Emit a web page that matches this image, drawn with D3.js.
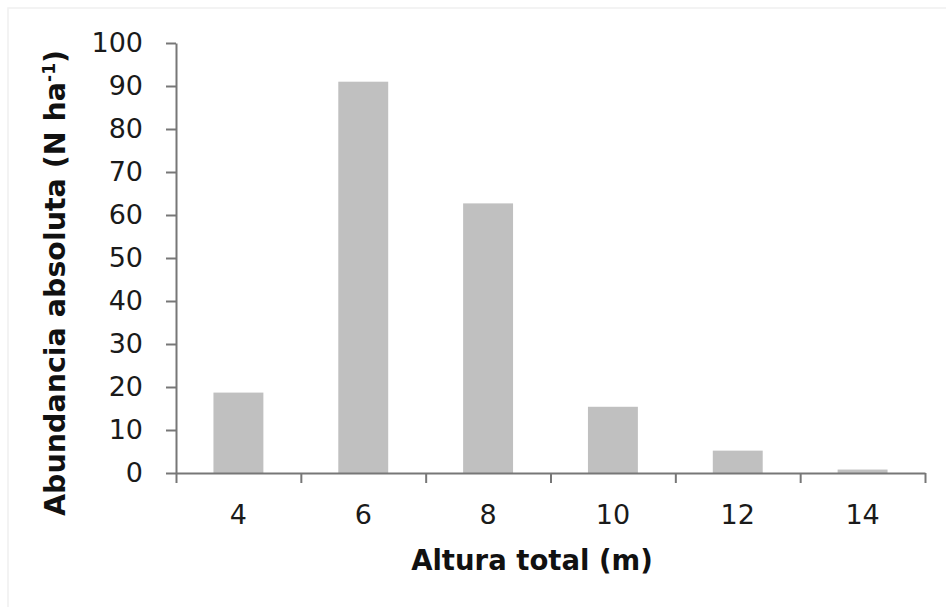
<!DOCTYPE html>
<html lang="es">
<head>
  <meta charset="UTF-8">
  <title>Abundancia absoluta por altura total</title>
  <script src="https://d3js.org/d3.v7.min.js"></script>
  <style>
    body {
      margin: 0;
      background: #fff;
      font-family: "DejaVu Sans", Verdana, sans-serif;
    }
    svg { display: block; }
    .axis text {
      font-family: "DejaVu Sans", Verdana, sans-serif;
      font-size: 27px;
      fill: #1a1a1a;
    }
    .axis path, .axis line {
      stroke: #777;
      stroke-width: 2px;
    }
    .title {
      font-family: "DejaVu Sans", Verdana, sans-serif;
      font-weight: bold;
      fill: #111;
    }
  </style>
</head>
<body>
  <svg id="chart" width="946" height="607"></svg>

  <script>
    // Data
    const heights = ["4", "6", "8", "10", "12", "14"];
    const abundance = [18.7, 91, 62.7, 15.4, 5.2, 0.8];
    const yTicks = [0, 10, 20, 30, 40, 50, 60, 70, 80, 90, 100];

    const svg = d3.select("#chart");
    const width = 946, height = 607;
    const margin = {top: 43, right: 21, bottom: 134, left: 176};

    // faint frame like the original export
    svg.append("rect")
       .attr("x", 8).attr("y", 8)
       .attr("width", width).attr("height", height)
       .attr("fill", "none")
       .attr("stroke", "#f0f0f0")
       .attr("stroke-width", 1.5);

    const x = d3.scaleBand()
                .domain(heights)
                .range([margin.left, width - margin.right])
                .paddingInner(0.6)
                .paddingOuter(0.3);

    const y = d3.scaleLinear()
                .domain([0, 100])
                .range([height - margin.bottom, margin.top]);

    // bars
    svg.selectAll(".bar")
       .data(abundance)
       .enter()
       .append("rect")
       .attr("class", "bar")
       .attr("x", (d, i) => x(heights[i]))
       .attr("y", d => y(d))
       .attr("width", x.bandwidth())
       .attr("height", d => y(0) - y(d))
       .attr("fill", "#c0c0c0");

    // y axis
    svg.append("g")
       .attr("class", "axis")
       .attr("transform", `translate(${margin.left},0)`)
       .call(d3.axisLeft(y).tickValues(yTicks).tickSize(10).tickSizeOuter(0).tickPadding(23));

    // x axis: tick marks on category boundaries
    const xEdges = d3.scaleLinear()
                     .domain([0, heights.length])
                     .range([margin.left, width - margin.right]);

    svg.append("g")
       .attr("class", "axis")
       .attr("transform", `translate(0,${y(0)})`)
       .call(d3.axisBottom(xEdges).ticks(heights.length).tickSize(10).tickSizeOuter(0).tickFormat(""));

    // x axis: labels centred on the bars
    svg.append("g")
       .attr("class", "axis")
       .attr("transform", `translate(0,${y(0)})`)
       .call(d3.axisBottom(x).tickSize(0).tickPadding(32))
       .call(g => g.select(".domain").remove());

    // axis titles
    svg.append("text")
       .attr("class", "title")
       .attr("x", 532)
       .attr("y", 570)
       .attr("font-size", "27.5px")
       .attr("text-anchor", "middle")
       .text("Altura total (m)");

    const yTitle = svg.append("text")
       .attr("class", "title")
       .attr("font-size", "28.5px")
       .attr("transform", "translate(65,283) rotate(-90)")
       .attr("text-anchor", "middle");
    yTitle.append("tspan").text("Abundancia absoluta (N ha");
    yTitle.append("tspan")
          .attr("baseline-shift", "super")
          .attr("font-size", "17px")
          .text("-1");
    yTitle.append("tspan").text(")");
  </script>
</body>
</html>
